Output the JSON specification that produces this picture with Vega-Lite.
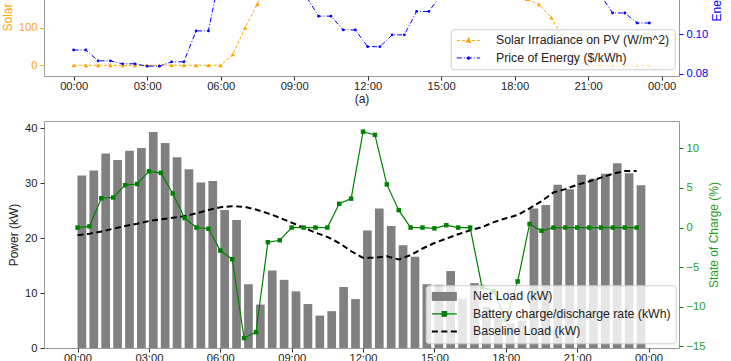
{
  "$schema": "https://vega.github.io/schema/vega-lite/v6.json",
  "padding": {"top": -125, "left": 0, "right": 0, "bottom": 0},
  "spacing": 14,
  "config": {
    "font": "Liberation Sans",
    "view": {"stroke": "#999999", "strokeWidth": 1},
    "axis": {"grid": false, "domain": false, "labelFont": "Liberation Sans", "labelFontSize": 11.2, "labelColor": "#222222", "tickColor": "#333333", "tickSize": 4, "labelPadding": 3, "titleFont": "Liberation Sans", "titleFontSize": 12, "titleFontWeight": "normal", "titleColor": "#222222", "titlePadding": 4},
    "axisX": {"labelPadding": 0},
    "legend": {"labelFont": "Liberation Sans", "labelFontSize": 12.3, "labelColor": "#222222", "labelLimit": 400, "fillColor": "rgba(255,255,255,0.8)", "strokeColor": "#cccccc", "cornerRadius": 3, "padding": 5, "rowPadding": 4.5, "symbolSize": 100, "title": null}
  },
  "resolve": {"scale": {"color": "independent", "x": "independent", "y": "independent"}, "legend": {"color": "independent"}},
  "vconcat": [
    {
      "width": 635,
      "height": 200,
      "data": {"values": [
        {"h": 0, "solar": 0, "price": 0.092}, {"h": 0.5, "solar": 0, "price": 0.092},
        {"h": 1, "solar": 0, "price": 0.0865}, {"h": 1.5, "solar": 0, "price": 0.0865},
        {"h": 2, "solar": 0, "price": 0.085}, {"h": 2.5, "solar": 0, "price": 0.085},
        {"h": 3, "solar": 0, "price": 0.0838}, {"h": 3.5, "solar": 0, "price": 0.0838},
        {"h": 4, "solar": 0, "price": 0.086}, {"h": 4.5, "solar": 0, "price": 0.086},
        {"h": 5, "solar": 0, "price": 0.1017}, {"h": 5.5, "solar": 0, "price": 0.1017},
        {"h": 6, "solar": 0, "price": 0.132}, {"h": 6.5, "solar": 29, "price": 0.132},
        {"h": 7, "solar": 100, "price": 0.14}, {"h": 7.5, "solar": 163, "price": 0.14},
        {"h": 8, "solar": 220, "price": 0.13}, {"h": 8.5, "solar": 275, "price": 0.13},
        {"h": 9, "solar": 325, "price": 0.119}, {"h": 9.5, "solar": 370, "price": 0.119},
        {"h": 10, "solar": 405, "price": 0.1092}, {"h": 10.5, "solar": 435, "price": 0.1092},
        {"h": 11, "solar": 455, "price": 0.1022}, {"h": 11.5, "solar": 468, "price": 0.1022},
        {"h": 12, "solar": 472, "price": 0.0937}, {"h": 12.5, "solar": 468, "price": 0.0937},
        {"h": 13, "solar": 455, "price": 0.0997}, {"h": 13.5, "solar": 435, "price": 0.0997},
        {"h": 14, "solar": 410, "price": 0.1116}, {"h": 14.5, "solar": 380, "price": 0.1116},
        {"h": 15, "solar": 345, "price": 0.12}, {"h": 15.5, "solar": 310, "price": 0.12},
        {"h": 16, "solar": 278, "price": 0.13}, {"h": 16.5, "solar": 250, "price": 0.13},
        {"h": 17, "solar": 225, "price": 0.145}, {"h": 17.5, "solar": 205, "price": 0.145},
        {"h": 18, "solar": 190, "price": 0.15}, {"h": 18.5, "solar": 176, "price": 0.15},
        {"h": 19, "solar": 162, "price": 0.14}, {"h": 19.5, "solar": 127, "price": 0.14},
        {"h": 20, "solar": 70, "price": 0.13}, {"h": 20.5, "solar": 20, "price": 0.13},
        {"h": 21, "solar": 0, "price": 0.12}, {"h": 21.5, "solar": 0, "price": 0.12},
        {"h": 22, "solar": 0, "price": 0.1108}, {"h": 22.5, "solar": 0, "price": 0.1108},
        {"h": 23, "solar": 0, "price": 0.1057}, {"h": 23.5, "solar": 0, "price": 0.1057}
      ]},
      "layer": [
        {
          "mark": {"type": "line", "strokeDash": [3, 2], "strokeWidth": 1, "point": {"shape": "triangle-up", "filled": true, "size": 20}},
          "encoding": {
            "x": {"field": "h", "type": "quantitative", "scale": {"domain": [-1.21, 24.71], "nice": false, "zero": false},
                  "axis": {"values": [0, 3, 6, 9, 12, 15, 18, 21, 24], "labelExpr": "(datum.value % 24 < 10 ? '0' : '') + (datum.value % 24) + ':00'", "title": "(a)", "titlePadding": 2.5}},
            "y": {"field": "solar", "type": "quantitative", "scale": {"domain": [-28.5, 503.5], "nice": false, "zero": false},
                  "axis": {"orient": "left", "values": [0, 100, 200, 300, 400], "title": "Solar Irradiance (W/m^2)", "labelColor": "orange", "tickColor": "orange", "titleColor": "orange", "titleAngle": 270, "titleAlign": "left", "titleY": 155}},
            "color": {"datum": "Solar Irradiance on PV (W/m^2)", "type": "nominal",
                      "scale": {"domain": ["Solar Irradiance on PV (W/m^2)", "Price of Energy ($/kWh)"], "range": ["orange", "blue"]},
                      "legend": {"orient": "none", "legendX": 406.7, "legendY": 153.3, "symbolOffset": 6.65, "labelOffset": 21.3,
                                 "encode": {"symbols": {"update": {
                                   "size": {"value": 100},
                                   "shape": {"signal": "datum.value === 'Solar Irradiance on PV (W/m^2)' ? 'M-2.33,0H2.33M0,-0.55L0.5,0.4H-0.5Z' : 'M-2.33,0H2.33M0.3,0A0.3,0.3,0,1,1,-0.3,0A0.3,0.3,0,1,1,0.3,0Z'"},
                                   "fill": {"signal": "datum.value === 'Solar Irradiance on PV (W/m^2)' ? 'orange' : 'blue'"},
                                   "stroke": {"signal": "datum.value === 'Solar Irradiance on PV (W/m^2)' ? 'orange' : 'blue'"},
                                   "strokeWidth": {"value": 1},
                                   "strokeDash": {"signal": "datum.value === 'Solar Irradiance on PV (W/m^2)' ? [3, 2] : [5, 2, 1, 2]"},
                                   "opacity": {"value": 1}
                                 }}}}}
          }
        },
        {
          "mark": {"type": "line", "strokeDash": [5, 2, 1, 2], "strokeWidth": 1, "point": {"shape": "circle", "filled": true, "size": 8}},
          "encoding": {
            "x": {"field": "h", "type": "quantitative"},
            "y": {"field": "price", "type": "quantitative", "scale": {"domain": [0.0788, 0.18036], "nice": false, "zero": false},
                  "axis": {"orient": "right", "values": [0.08, 0.1, 0.12, 0.14, 0.16], "format": ".2f", "title": "Energy Price ($/kWh)", "labelColor": "blue", "tickColor": "blue", "titleColor": "blue", "titleAngle": 270, "titleAlign": "left", "titleBaseline": "top", "titleY": 145}},
            "color": {"datum": "Price of Energy ($/kWh)", "type": "nominal", "legend": null}
          }
        }
      ],
      "resolve": {"scale": {"y": "independent"}}
    },
    {
      "width": 635,
      "height": 227,
      "data": {"values": [
        {"h": 0, "net": 31.4, "bat": 0.0, "base": 20.5}, {"h": 0.5, "net": 32.3, "bat": 0.15, "base": 20.8},
        {"h": 1, "net": 35.4, "bat": 3.7, "base": 21.2}, {"h": 1.5, "net": 34.2, "bat": 3.8, "base": 21.7},
        {"h": 2, "net": 35.9, "bat": 5.35, "base": 22.2}, {"h": 2.5, "net": 36.4, "bat": 5.5, "base": 22.6},
        {"h": 3, "net": 39.3, "bat": 7.1, "base": 23.1}, {"h": 3.5, "net": 37.3, "bat": 6.9, "base": 23.4},
        {"h": 4, "net": 34.7, "bat": 4.3, "base": 23.7}, {"h": 4.5, "net": 32.5, "bat": 1.2, "base": 24.0},
        {"h": 5, "net": 30.1, "bat": 0.0, "base": 24.5}, {"h": 5.5, "net": 30.4, "bat": -0.15, "base": 25.1},
        {"h": 6, "net": 25.1, "bat": -2.9, "base": 25.6}, {"h": 6.5, "net": 23.3, "bat": -4.0, "base": 25.8},
        {"h": 7, "net": 11.6, "bat": -13.95, "base": 25.7}, {"h": 7.5, "net": 7.9, "bat": -13.2, "base": 25.2},
        {"h": 8, "net": 14.1, "bat": -1.85, "base": 24.5}, {"h": 8.5, "net": 12.4, "bat": -1.6, "base": 23.7},
        {"h": 9, "net": 10.3, "bat": 0.0, "base": 22.8}, {"h": 9.5, "net": 8.0, "bat": 0.0, "base": 21.9},
        {"h": 10, "net": 5.9, "bat": 0.0, "base": 21.0}, {"h": 10.5, "net": 6.7, "bat": 0.0, "base": 20.2},
        {"h": 11, "net": 11.1, "bat": 3.0, "base": 19.1}, {"h": 11.5, "net": 8.9, "bat": 3.65, "base": 17.6},
        {"h": 12, "net": 21.4, "bat": 12.1, "base": 16.4}, {"h": 12.5, "net": 25.4, "bat": 11.7, "base": 16.4},
        {"h": 13, "net": 22.2, "bat": 5.45, "base": 16.7}, {"h": 13.5, "net": 18.7, "bat": 2.2, "base": 16.1},
        {"h": 14, "net": 16.6, "bat": 0.0, "base": 16.9}, {"h": 14.5, "net": 11.6, "bat": 0.0, "base": 18.1},
        {"h": 15, "net": 11.5, "bat": -0.1, "base": 19.1}, {"h": 15.5, "net": 14.0, "bat": 0.3, "base": 19.9},
        {"h": 16, "net": 9.0, "bat": 0.0, "base": 20.7}, {"h": 16.5, "net": 11.8, "bat": 0.0, "base": 21.4},
        {"h": 17, "net": 7.5, "bat": -7.5, "base": 22.0}, {"h": 17.5, "net": 5.5, "bat": -8.0, "base": 22.9},
        {"h": 18, "net": 4.5, "bat": -11.7, "base": 23.6}, {"h": 18.5, "net": 5.0, "bat": -6.8, "base": 24.2},
        {"h": 19, "net": 25.4, "bat": 0.45, "base": 25.4}, {"h": 19.5, "net": 26.0, "bat": -0.4, "base": 26.7},
        {"h": 20, "net": 29.7, "bat": 0.0, "base": 28.3}, {"h": 20.5, "net": 28.9, "bat": 0.0, "base": 28.9},
        {"h": 21, "net": 31.5, "bat": 0.0, "base": 29.7}, {"h": 21.5, "net": 30.8, "bat": 0.0, "base": 30.3},
        {"h": 22, "net": 31.7, "bat": 0.0, "base": 31.0}, {"h": 22.5, "net": 33.6, "bat": 0.0, "base": 31.7},
        {"h": 23, "net": 31.8, "bat": 0.0, "base": 32.2}, {"h": 23.5, "net": 29.6, "bat": 0.0, "base": 32.2}
      ]},
      "layer": [
        {
          "layer": [
            {
              "mark": {"type": "bar", "size": 8.7, "xOffset": 4.35},
              "encoding": {
                "x": {"field": "h", "type": "quantitative", "scale": {"domain": [-1.2, 25.07], "nice": false, "zero": false},
                      "axis": {"values": [0, 3, 6, 9, 12, 15, 18, 21, 24], "labelExpr": "(datum.value % 24 < 10 ? '0' : '') + (datum.value % 24) + ':00'", "title": null}},
                "y": {"field": "net", "type": "quantitative", "scale": {"domain": [0, 41.3], "nice": false},
                      "axis": {"orient": "left", "values": [0, 5, 10, 15, 20, 25, 30, 35, 40], "title": "Power (kW)"}},
                "color": {"datum": "Net Load (kW)", "type": "nominal",
                          "scale": {"domain": ["Net Load (kW)", "Battery charge/discharge rate (kWh)", "Baseline Load (kW)"], "range": ["#808080", "green", "black"]},
                          "legend": {"orient": "none", "legendX": 381.7, "legendY": 164.3, "symbolOffset": 7.5, "labelOffset": 22.6,
                                     "encode": {"symbols": {"update": {
                                       "size": {"value": 100},
                                       "shape": {"signal": "datum.value === 'Net Load (kW)' ? 'M-2.5,-0.9H2.5V0.9H-2.5Z' : datum.value === 'Baseline Load (kW)' ? 'M-2.5,0H2.5' : 'M-2.5,0H2.5M-0.45,-0.45H0.45V0.45H-0.45Z'"},
                                       "fill": {"signal": "datum.value === 'Net Load (kW)' ? '#808080' : datum.value === 'Baseline Load (kW)' ? 'transparent' : 'green'"},
                                       "stroke": {"signal": "datum.value === 'Net Load (kW)' ? 'transparent' : datum.value === 'Baseline Load (kW)' ? 'black' : 'green'"},
                                       "strokeWidth": {"signal": "datum.value === 'Net Load (kW)' ? 0 : datum.value === 'Baseline Load (kW)' ? 2 : 1.2"},
                                       "strokeDash": {"signal": "datum.value === 'Baseline Load (kW)' ? [6, 3.5] : [1, 0]"},
                                       "opacity": {"value": 1}
                                     }}}}}
              }
            },
            {
              "mark": {"type": "line", "strokeDash": [6, 3.5], "strokeWidth": 2},
              "encoding": {
                "x": {"field": "h", "type": "quantitative"},
                "y": {"field": "base", "type": "quantitative"},
                "color": {"datum": "Baseline Load (kW)", "type": "nominal", "legend": null}
              }
            }
          ]
        },
        {
          "mark": {"type": "line", "strokeWidth": 1.2, "point": {"shape": "square", "filled": true, "size": 20}},
          "encoding": {
            "x": {"field": "h", "type": "quantitative"},
            "y": {"field": "bat", "type": "quantitative", "scale": {"domain": [-15.2, 13.45], "nice": false, "zero": false},
                  "axis": {"orient": "right", "values": [-15, -10, -5, 0, 5, 10], "title": "State of Charge (%)", "labelColor": "#1e9e1e", "tickColor": "green", "titleColor": "#1e9e1e", "titleAngle": 270, "titleBaseline": "top"}},
            "color": {"datum": "Battery charge/discharge rate (kWh)", "type": "nominal", "legend": null}
          }
        }
      ],
      "resolve": {"scale": {"y": "independent"}}
    }
  ]
}
